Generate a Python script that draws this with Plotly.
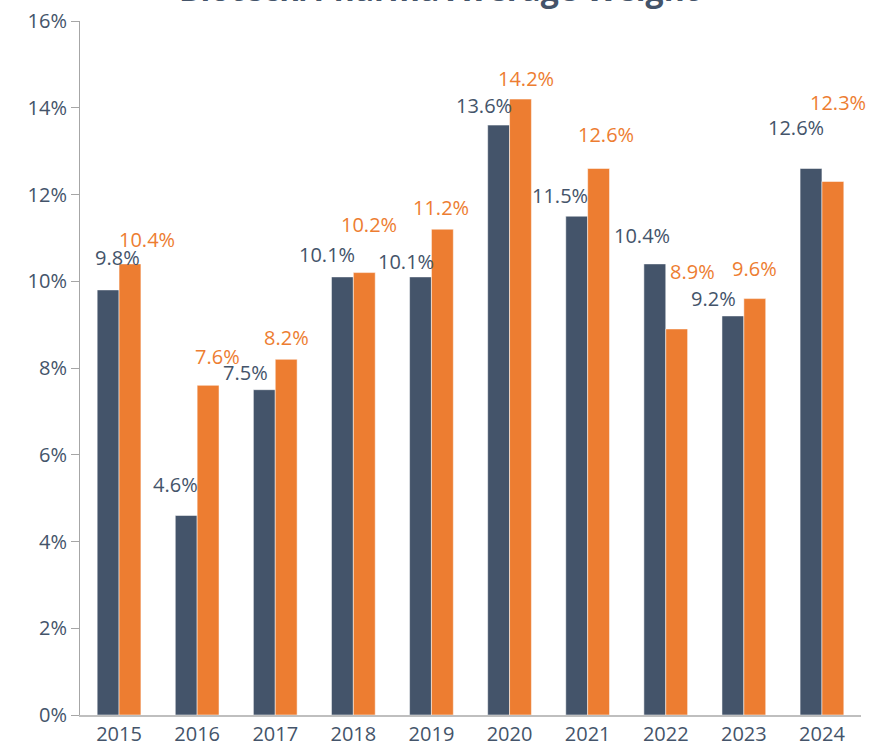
import plotly.graph_objects as go

years = ["2015", "2016", "2017", "2018", "2019", "2020", "2021", "2022", "2023", "2024"]
series_a = [9.8, 4.6, 7.5, 10.1, 10.1, 13.6, 11.5, 10.4, 9.2, 12.6]
series_b = [10.4, 7.6, 8.2, 10.2, 11.2, 14.2, 12.6, 8.9, 9.6, 12.3]
y_ticks = [0, 2, 4, 6, 8, 10, 12, 14, 16]
y_tick_labels = ["0%", "2%", "4%", "6%", "8%", "10%", "12%", "14%", "16%"]
title = "Biotech/Pharma Average Weight"

# label offsets in pixels (dx from category centre, dy above bar top)
label_dx_a = [-2, -22, -30, -26, -25, -26, -28, -24, -30, -26]
label_dy_a = [32, 31, 17, 22, 15, 20, 21, 28, 17, 41]
label_dx_b = [28, 20, 11, 16, 10, 16, 18, 27, 11, 16]
label_dy_b = [24, 29, 22, 48, 22, 21, 34, 57, 30, 79]

DARK = "#44546A"
ORANGE = "#ED7D31"
FONT = "Open Sans"

fig = go.Figure()
fig.add_trace(go.Bar(x=years, y=series_a, marker=dict(color=DARK, line=dict(color="rgba(255,255,255,0.5)", width=1)), name="A"))
fig.add_trace(go.Bar(x=years, y=series_b, marker=dict(color=ORANGE, line=dict(color="rgba(255,255,255,0.5)", width=1)), name="B"))

ann = []
for i, yr in enumerate(years):
    ann.append(dict(x=i, y=series_a[i], xref="x", yref="y", text=f"{series_a[i]:.1f}%", showarrow=False,
                    xshift=label_dx_a[i], yshift=label_dy_a[i], xanchor="center", yanchor="middle",
                    font=dict(family=FONT, size=20, color=DARK)))
    ann.append(dict(x=i, y=series_b[i], xref="x", yref="y", text=f"{series_b[i]:.1f}%", showarrow=False,
                    xshift=label_dx_b[i], yshift=label_dy_b[i], xanchor="center", yanchor="middle",
                    font=dict(family=FONT, size=20, color=ORANGE)))
ann.append(dict(x=0.46, y=1, xref="paper", yref="paper", text=f"<b>{title}</b>", showarrow=False,
                yshift=33, xanchor="center", yanchor="middle",
                font=dict(family=FONT, size=32, color=DARK)))

fig.update_layout(
    width=879, height=754,
    margin=dict(l=80, r=18, t=21, b=39),
    plot_bgcolor="white", paper_bgcolor="white",
    barmode="group", bargap=0.44, bargroupgap=0,
    showlegend=False,
    annotations=ann,
    font=dict(family=FONT, size=20, color=DARK),
)
fig.update_xaxes(type="category", range=[-0.5, 9.5], automargin=False, showline=True, linecolor="#BFBFBF",
                 linewidth=2, ticks="", showgrid=False, tickfont=dict(family=FONT, size=20, color=DARK))
fig.update_yaxes(automargin=False, range=[0, 16], tickvals=y_ticks, ticktext=y_tick_labels, showgrid=False,
                 zeroline=False, showline=True, linecolor="#A6A6A6", linewidth=1, ticks="outside",
                 ticklen=8, tickcolor="#A6A6A6", tickfont=dict(family=FONT, size=20, color=DARK))

fig.write_html("out.html", config={"displayModeBar": False},
               post_script="document.body.style.margin='0';")
